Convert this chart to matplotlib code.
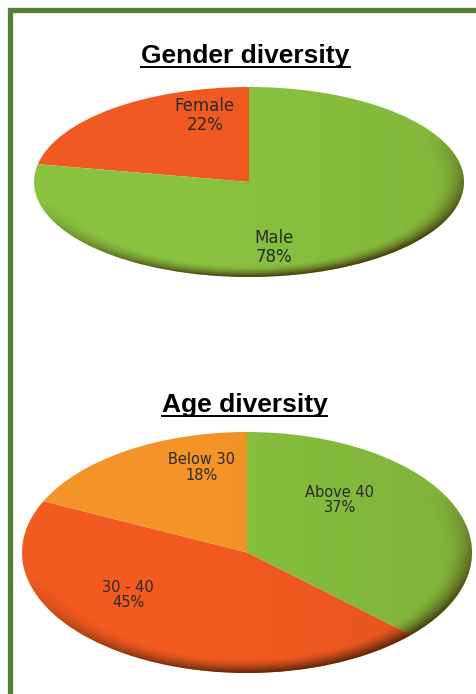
import numpy as np
import matplotlib
matplotlib.use("Agg")
import matplotlib.pyplot as plt
from matplotlib.patches import Rectangle, Circle
from matplotlib.lines import Line2D

# Gender diversity
gender_labels = ["Female", "Male"]
gender_values = [22, 78]
gender_colors = ["#F05A22", "#88C23F"]

# Age diversity
age_labels = ["Above 40", "30 - 40", "Below 30"]
age_values = [37, 45, 18]
age_colors = ["#86BF3E", "#F25A20", "#F49327"]

W, H = 477, 694
fig = plt.figure(figsize=(W / 100, H / 100), dpi=100)
fig.patch.set_facecolor("white")


def px_axes(x0, y0, x1, y1):
    # pixel box (top-left origin) -> axes
    return fig.add_axes([x0 / W, 1 - y1 / H, (x1 - x0) / W, (y1 - y0) / H])


def shade(ax):
    # thin dark rim along the lower/right edge, clipped to the pie outline
    n = 400
    xs = np.linspace(-1, 1, n)
    X, Y = np.meshgrid(xs, xs[::-1])
    R = np.sqrt(X ** 2 + Y ** 2)
    rim = np.clip((R - 0.88) / 0.12, 0, 1) ** 1.6
    side = np.clip(0.15 - 0.85 * Y + 0.35 * X, 0, 1)
    # faint darkening towards the right
    body = np.clip(0.06 * (X + 0.2), 0, 0.08)
    a = np.clip(rim * side * 0.8 + body, 0, 0.75)
    img = np.zeros((n, n, 4))
    img[..., 0] = 0.22
    img[..., 1] = 0.10
    img[..., 2] = 0.02
    img[..., 3] = a
    im = ax.imshow(img, extent=[-1, 1, -1, 1], aspect="auto", zorder=3,
                   interpolation="bilinear")
    im.set_clip_path(Circle((0, 0), 1, transform=ax.transData))


def draw_pie(ax, values, colors, labels, pos, start, ccw, fsize):
    ax.pie(values, colors=colors, startangle=start, counterclock=ccw,
           wedgeprops=dict(linewidth=0), radius=1, frame=True)
    ax.set_xlim(-1, 1)
    ax.set_ylim(-1, 1)
    ax.set_aspect("auto")
    ax.axis("off")
    shade(ax)
    for lab, v, (x, y) in zip(labels, values, pos):
        ax.text(x, y, f"{lab}\n{v}%", ha="center", va="center",
                fontsize=fsize, color="#2b2b2b", family="DejaVu Sans",
                linespacing=1.05, zorder=5)


ax1 = px_axes(34, 87, 464, 277)
draw_pie(ax1, gender_values, gender_colors, gender_labels,
         [(-0.205, 0.70), (0.116, -0.69)], 90, True, 12)

ax2 = px_axes(22, 432, 472, 673)
draw_pie(ax2, age_values, age_colors, age_labels,
         [(0.413, 0.436), (-0.529, -0.353), (-0.204, 0.705)], 90, False, 10.5)

# titles with underline
titles = [("Gender diversity", 245.5, 63), ("Age diversity", 244.5, 412)]
fig.canvas.draw()
renderer = fig.canvas.get_renderer()
for txt, cx, base in titles:
    t = fig.text(cx / W, 1 - base / H, txt, ha="center", va="baseline",
                 fontsize=19, fontweight="bold",
                 family=["Liberation Sans", "DejaVu Sans"], color="black")
    bb = t.get_window_extent(renderer)
    uy = 1 - (base + 4) / H
    fig.add_artist(Line2D([bb.x0 / W, bb.x1 / W], [uy, uy],
                          transform=fig.transFigure, color="black", lw=1.4))

# green frame (right and bottom sides run off the image)
fig.add_artist(Rectangle((10.5 / W, -0.05), 1.1, 1.05 - 9.5 / H,
                         transform=fig.transFigure, fill=False,
                         edgecolor="#548235", lw=3.8, clip_on=False))

fig.savefig("out.png", dpi=100)
